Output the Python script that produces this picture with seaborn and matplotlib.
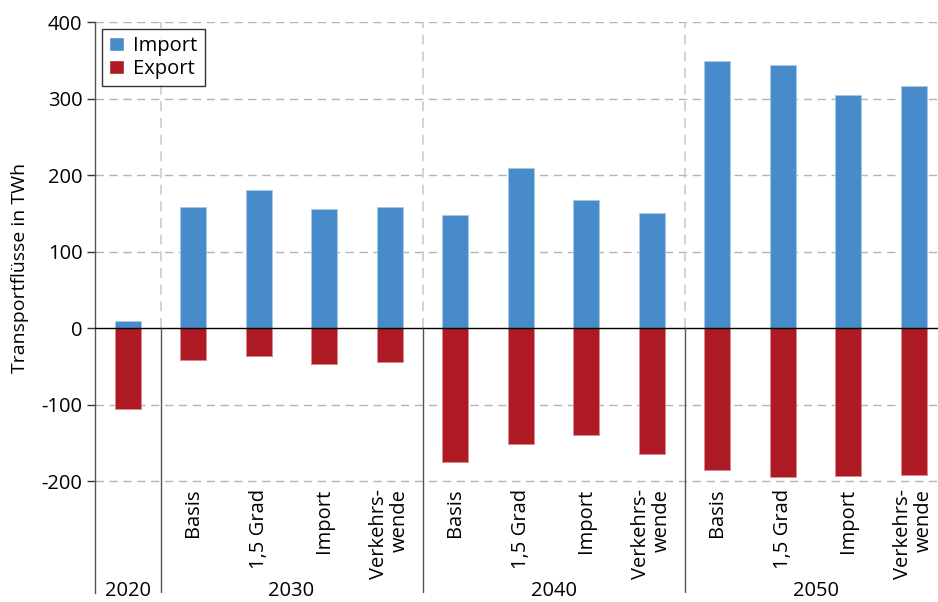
import pandas as pd
import matplotlib.pyplot as plt
import seaborn as sns
from matplotlib.patches import Patch

sns.set_style('white')
plt.rcParams['font.family'] = ['Open Sans', 'DejaVu Sans']
plt.rcParams['axes.unicode_minus'] = False
plt.rcParams['text.color'] = 'black'
plt.rcParams['axes.labelcolor'] = 'black'
plt.rcParams['ytick.color'] = 'black'

# Daten
jahre = ['2020', '2030', '2040', '2050']
szenarien = ['Basis', '1,5 Grad', 'Import', 'Verkehrs-\nwende']
import_twh = [9,
              158, 180, 156, 158,
              148, 209, 167, 150,
              349, 344, 304, 316]
export_twh = [-106,
              -42, -36, -47, -44,
              -175, -151, -139, -164,
              -185, -195, -193, -192]
yticks = [-200, -100, 0, 100, 200, 300, 400]

blau = '#478bca'
rot = '#ad1a24'
fs = 14.5

# Balken-Kategorien: 2020 + 3 Jahre x 4 Szenarien
balken = ['2020'] + [f'{j} {s}' for j in jahre[1:] for s in szenarien]
df = pd.DataFrame({'Balken': balken, 'Import': import_twh, 'Export': export_twh})

fig = plt.figure(figsize=(9.38, 6.02), dpi=100)
ax = fig.add_axes([95 / 938, 9 / 602, 843 / 938, 571 / 602])

sns.barplot(data=df, x='Balken', y='Import', order=balken, color=blau, width=0.4,
            saturation=1, edgecolor='#a9c8e6', linewidth=0.6, ax=ax, zorder=3)
sns.barplot(data=df, x='Balken', y='Export', order=balken, color=rot, width=0.4,
            saturation=1, edgecolor='#d98a8f', linewidth=0.6, ax=ax, zorder=3)

ax.set_xlim(-0.5, 12.37)
ax.set_ylim(-346, 400)

# Gitter
for t in yticks:
    if t != 0:
        ax.axhline(t, color='#b4b4b4', lw=1, dashes=(6, 4), zorder=1)
ax.axhline(0, color='black', lw=1, zorder=4)

# Trennlinien zwischen den Jahren
grenzen = [0.5, 4.5, 8.5]
for g in grenzen:
    ax.vlines(g, 0, 400, color='#cccccc', lw=1.2, linestyles=(0, (6, 4)), zorder=1)
    ax.vlines(g, -346, 0, color='#555555', lw=1, zorder=4)

ax.set_yticks(yticks)
ax.set_yticklabels([str(t) for t in yticks], fontsize=fs)
ax.tick_params(axis='y', length=6, width=1, color='#333333', pad=3, direction='out', left=True)
ax.set_xticks([])
ax.set_xlabel('')
ax.set_ylabel('Transportflüsse in TWh', fontsize=fs - 0.5)
ax.yaxis.set_label_coords(-0.078, 0.57)

for s in ['top', 'right', 'bottom']:
    ax.spines[s].set_visible(False)
ax.spines['left'].set_color('#555555')
ax.spines['left'].set_linewidth(1)

# Szenario-Beschriftungen
for i, name in enumerate(balken[1:], start=1):
    label = szenarien[(i - 1) % 4]
    ax.text(i, -210, label, rotation=90, ha='center', va='top', multialignment='right',
            fontsize=fs, linespacing=1.05)

# Jahres-Beschriftungen
jahr_pos = [0, 2.5, 6.5, 10.5]
for j, p in zip(jahre, jahr_pos):
    ax.text(p, -343, j, ha='center', va='center', fontsize=fs, clip_on=False)

handles = [Patch(facecolor=blau, label='Import'), Patch(facecolor=rot, label='Export')]
leg = ax.legend(handles=handles, loc='upper left', bbox_to_anchor=(0.0, 1.0), fontsize=fs,
                frameon=True, fancybox=False, edgecolor='black', handlelength=0.75,
                handleheight=0.75, handletextpad=0.45, borderpad=0.35, labelspacing=0.15,
                borderaxespad=0.35)
leg.get_frame().set_linewidth(1)

fig.savefig('out.png', dpi=100)
